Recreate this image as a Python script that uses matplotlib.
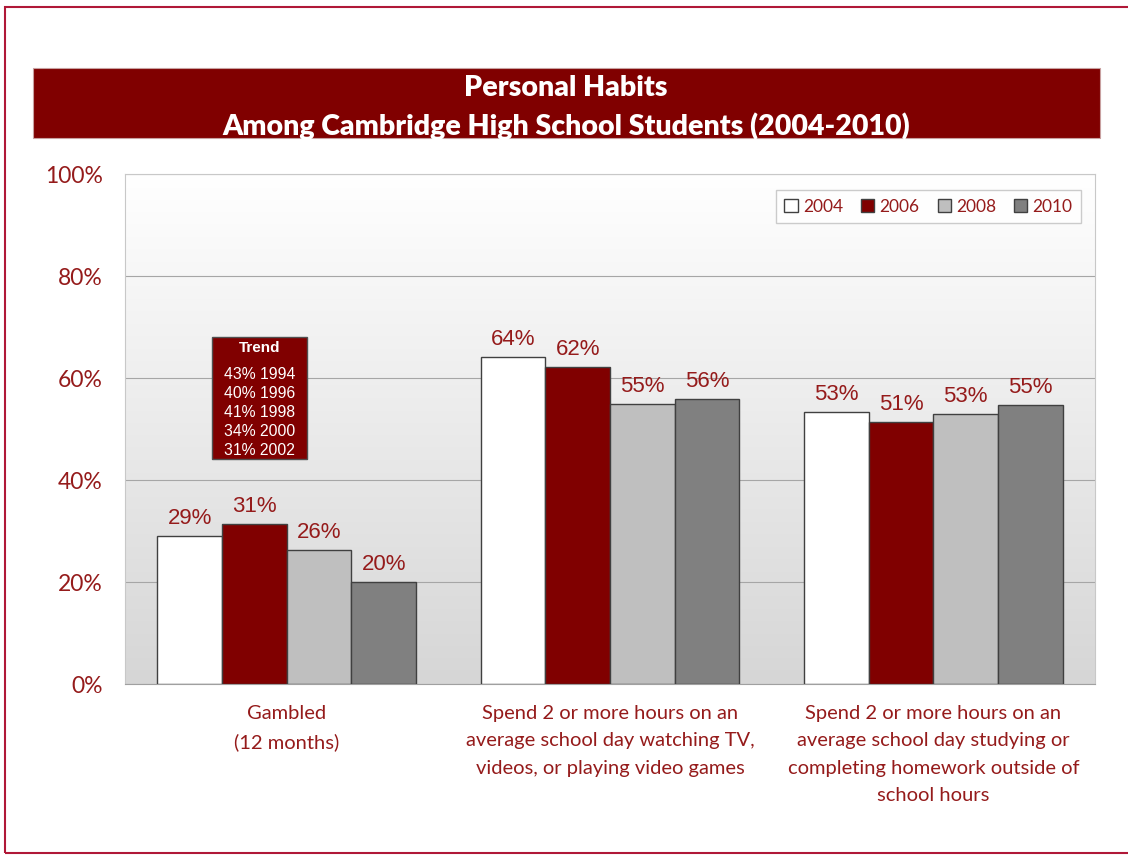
import numpy as np
import matplotlib
matplotlib.use("Agg")
import matplotlib.pyplot as plt
from matplotlib.patches import Rectangle, Patch
from matplotlib.colors import LinearSegmentedColormap

# 数据
categories = ["Gambled\n(12 months)",
              "Spend 2 or more hours on an\naverage school day watching TV,\nvideos, or playing video games",
              "Spend 2 or more hours on an\naverage school day studying or\ncompleting homework outside of\nschool hours"]
years = ["2004", "2006", "2008", "2010"]
vals_2004 = [29.0, 64.1, 53.4]
vals_2006 = [31.4, 62.2, 51.4]
vals_2008 = [26.3, 54.9, 52.9]
vals_2010 = [20.0, 55.9, 54.7]
trend_lines = ["43% 1994", "40% 1996", "41% 1998", "34% 2000", "31% 2002"]

series = [vals_2004, vals_2006, vals_2008, vals_2010]
bar_colors = ["#FFFFFF", "#800000", "#BFBFBF", "#808080"]
txt_red = "#951B1B"
calibri = ["Lato", "DejaVu Sans"]
arial = ["Liberation Sans", "DejaVu Sans"]

W, H = 1128, 855
fig = plt.figure(figsize=(W / 100, H / 100), dpi=100)
fig.patch.set_facecolor("white")

# 外框
fig.patches.append(Rectangle((5 / W, 1 - 853 / H), 1.2, (853 - 7) / H, transform=fig.transFigure,
                             fill=False, edgecolor="#B01838", lw=1.5))
# 标题栏
fig.patches.append(Rectangle((33 / W, 1 - 138 / H), (1100 - 33) / W, 70 / H, transform=fig.transFigure,
                             facecolor="#800000", edgecolor="#C8A0A0", lw=0.8))
fig.text(566 / W, 1 - 88 / H, "Personal Habits", ha="center", va="center", color="white",
         fontsize=20.5, fontweight="heavy", family=calibri)
fig.text(566 / W, 1 - 126 / H, "Among Cambridge High School Students (2004-2010)", ha="center", va="center",
         color="white", fontsize=20.5, fontweight="heavy", family=calibri)

ax = fig.add_axes([125 / W, 1 - 684 / H, 970 / W, 510 / H])

# 渐变背景
grad = np.linspace(0, 1, 256).reshape(-1, 1)
ax.imshow(grad, extent=[-0.5, 2.5, 0, 100], aspect="auto",
          cmap=LinearSegmentedColormap.from_list("bg", ["#FFFFFF", "#D6D6D6"]), origin="upper", zorder=0)

x = np.arange(len(categories))
bw = 0.2
for i, (vals, c) in enumerate(zip(series, bar_colors)):
    pos = x - 0.3 + i * bw
    bars = ax.bar(pos, vals, width=bw, color=c, edgecolor="#404040", lw=1, zorder=3, label=years[i])
    for b, v in zip(bars, vals):
        ax.annotate(f"{v:.0f}%", (b.get_x() + b.get_width() / 2, v), xytext=(0, 5), textcoords="offset points",
                    ha="center", va="bottom", color=txt_red, fontsize=16, family=arial, zorder=4)

ax.set_xlim(-0.5, 2.5)
ax.set_ylim(0, 100)
ax.set_yticks([0, 20, 40, 60, 80, 100])
ax.set_yticklabels(["0%", "20%", "40%", "60%", "80%", "100%"], color=txt_red, fontsize=16.5, family=calibri)
ax.set_xticks(x)
ax.set_xticklabels(categories, color=txt_red, fontsize=14.5, family=calibri, linespacing=1.75, va="top")
ax.tick_params(axis="both", length=0)
ax.tick_params(axis="y", pad=16)
ax.tick_params(axis="x", pad=15)
ax.yaxis.grid(True, color="#A6A6A6", lw=0.8, zorder=1)
ax.set_axisbelow(True)
for s in ["top", "right", "left"]:
    ax.spines[s].set_color("#C8C8C8")
    ax.spines[s].set_linewidth(0.8)
ax.spines["bottom"].set_color("#A0A0A0")

# 图例
handles = [Patch(facecolor=c, edgecolor="#404040", label=y) for c, y in zip(bar_colors, years)]
leg = ax.legend(handles=handles, ncol=4, loc="upper right", bbox_to_anchor=(0.9856, 0.9686), borderaxespad=0,
                frameon=True, fancybox=False, handlelength=0.75, handleheight=0.75, handletextpad=0.3,
                columnspacing=1.05, borderpad=0.5, prop={"family": calibri, "size": 12.5})
leg.get_frame().set_edgecolor("#BFBFBF")
leg.get_frame().set_linewidth(1)
for t in leg.get_texts():
    t.set_color(txt_red)

# Trend 框
x0, x1 = (212 - 125) / 970, (307 - 125) / 970
y0, y1 = (684 - 459) / 510, (684 - 337) / 510
ax.add_patch(Rectangle((x0, y0), x1 - x0, y1 - y0, transform=ax.transAxes, facecolor="#800000",
                       edgecolor="#505050", lw=1, zorder=5))
xc = (x0 + x1) / 2
ax.text(xc, (684 - 348) / 510, "Trend", transform=ax.transAxes, ha="center", va="center", color="white",
        fontsize=11, fontweight="bold", family=arial, zorder=6)
for k, line in enumerate(trend_lines):
    ax.text(xc, (684 - (374 + 19 * k)) / 510, line, transform=ax.transAxes, ha="center", va="center",
            color="white", fontsize=11.3, family=arial, zorder=6)

fig.savefig("out.png", dpi=100)
